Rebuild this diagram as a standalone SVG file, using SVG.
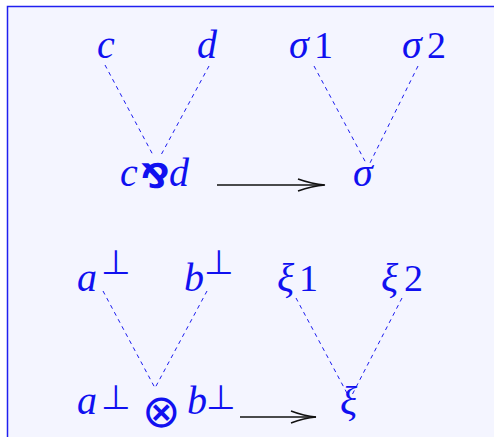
<svg xmlns="http://www.w3.org/2000/svg" width="494" height="437" viewBox="0 0 494 437">
<style>
.m{font-family:"Liberation Serif",serif;font-style:italic;font-size:40px;fill:#1010f0}
.r{font-family:"Liberation Serif",serif;font-size:38px;fill:#1010f0}
.s{font-family:"DejaVu Sans",sans-serif;font-size:34px;fill:#1010f0;font-weight:200}
.dash{stroke:#1a1af0;stroke-width:1;stroke-dasharray:4 4;fill:none}
.arr{stroke:#111;stroke-width:1.5;fill:none}
</style>
<rect x="7.5" y="6.5" width="500" height="450" fill="#f4f5ff" stroke="#2020f0" stroke-width="1.5"/>
<g id="c"><text class="m" x="97" y="58">c</text></g>
<g id="d"><text class="m" x="197" y="58">d</text></g>
<g id="sigma1"><text class="m" x="289" y="58">σ</text><text class="r" x="314" y="58">1</text></g>
<g id="sigma2"><text class="m" x="402" y="58">σ</text><text class="r" x="427" y="58">2</text></g>
<g id="cpard"><text class="m" x="120" y="186">c</text><text x="140" y="188" style="font-family:'DejaVu Sans',sans-serif;font-size:34px;font-weight:bold;fill:#1010f0">⅋</text><text class="m" x="169" y="186">d</text></g>
<g id="sigma"><text class="m" x="353" y="186">σ</text></g>
<g id="aperp"><text class="m" x="77" y="291">a</text><text class="s" x="101" y="274">⊥</text></g>
<g id="bperp"><text class="m" x="184" y="291">b</text><text class="s" x="204" y="274">⊥</text></g>
<g id="xi1"><text class="m" x="277" y="291">ξ</text><text class="r" x="299" y="291">1</text></g>
<g id="xi2"><text class="m" x="381" y="291">ξ</text><text class="r" x="404" y="291">2</text></g>
<g id="atensorb"><text class="m" x="77" y="414">a</text><text class="s" x="101" y="409">⊥</text><text x="142" y="427" style="font-family:'DejaVu Sans',sans-serif;font-size:46px;font-weight:200;fill:#1010f0">⊗</text><text class="m" x="187" y="414">b</text><text class="s" x="206" y="409">⊥</text></g>
<g id="xi"><text class="m" x="340" y="414">ξ</text></g>
<g id="connectors">
<line class="dash" x1="105" y1="65" x2="153" y2="155"/>
<line class="dash" x1="209" y1="66" x2="161" y2="155"/>
<line class="dash" x1="314" y1="66" x2="366" y2="163"/>
<line class="dash" x1="418" y1="66" x2="370" y2="163"/>
<line class="dash" x1="103" y1="291" x2="155" y2="388"/>
<line class="dash" x1="207" y1="291" x2="155" y2="388"/>
<line class="dash" x1="296" y1="298" x2="348" y2="395"/>
<line class="dash" x1="402" y1="298" x2="352" y2="395"/>
<line class="arr" x1="217" y1="185" x2="324" y2="185"/>
<path class="arr" d="M298 179 Q312 184 325 185 Q312 186 298 191"/>
<line class="arr" x1="240" y1="417" x2="316" y2="417"/>
<path class="arr" d="M291 411 Q304 416 316 417 Q304 418 291 423"/>
</g>
</svg>
